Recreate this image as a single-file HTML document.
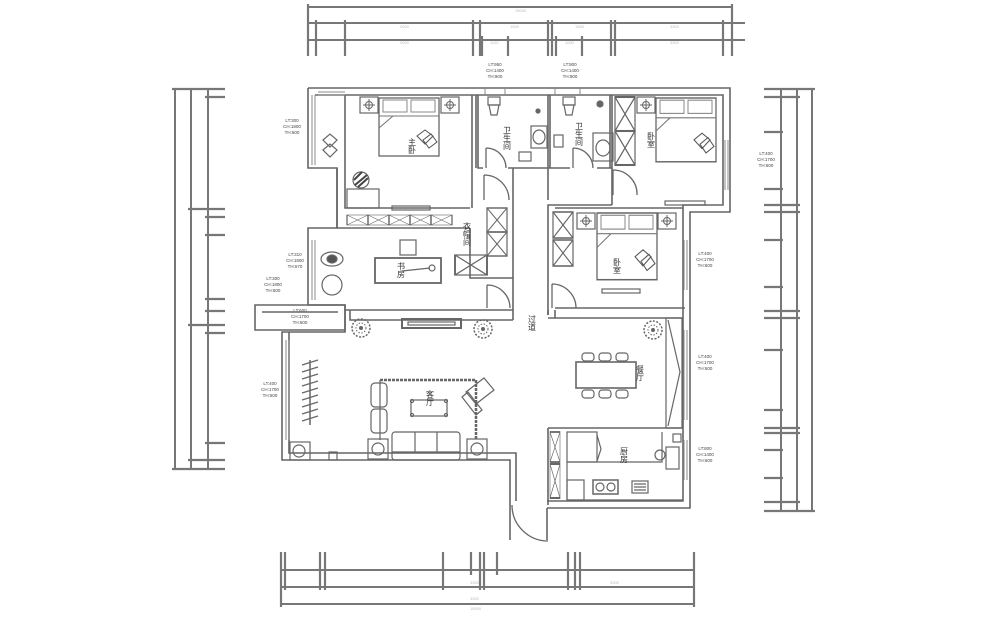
<!DOCTYPE html>
<html><head><meta charset="utf-8"><style>
html,body{margin:0;padding:0;background:#fff;width:1000px;height:630px;overflow:hidden}
svg{display:block}
text{font-family:"Liberation Sans","Noto Sans CJK SC",sans-serif}
</style></head><body>
<svg width="1000" height="630" viewBox="0 0 1000 630" xmlns="http://www.w3.org/2000/svg">
<defs>
<g id="xc"><rect x="0" y="0" width="20" height="20" fill="none" stroke="#666" stroke-width="1.2"/><path d="M0 0L20 20M20 0L0 20" stroke="#666" stroke-width="1"/></g>
<g id="bed"><rect x="0" y="0" width="60" height="58" fill="#fff" stroke="#666" stroke-width="1.3"/><rect x="4" y="2" width="24" height="12" fill="none" stroke="#888"/><rect x="32" y="2" width="24" height="12" fill="none" stroke="#888"/><path d="M0 18H60M0 30L14 18" stroke="#777" fill="none"/><path d="M38 38l8-6 8 6-8 8zM44 42l8-6 6 8-8 6z" fill="none" stroke="#555"/></g>
<g id="nt"><rect x="0" y="0" width="18" height="16" fill="none" stroke="#666" stroke-width="1.2"/><circle cx="9" cy="8" r="3.5" fill="none" stroke="#666"/><path d="M3 8h12M9 2v12" stroke="#666"/></g>
<g id="plant"><circle r="9" fill="none" stroke="#666" stroke-width="1.5" stroke-dasharray="2 1.5"/><circle r="5" fill="none" stroke="#666" stroke-dasharray="1.5 1.5"/><circle r="2" fill="#666"/></g>
</defs>
<g stroke="#777" fill="none" stroke-width="2">
<!-- top dims -->
<line x1="307" y1="7" x2="732" y2="7"/>
<line x1="307" y1="23" x2="745" y2="23"/>
<line x1="307" y1="40" x2="745" y2="40"/>
<g stroke-width="2.2">
<line x1="308" y1="4" x2="308" y2="56"/><line x1="316" y1="20" x2="316" y2="56"/><line x1="345" y1="20" x2="345" y2="56"/>
<line x1="473" y1="20" x2="473" y2="56"/><line x1="480" y1="20" x2="480" y2="56"/><line x1="482" y1="36" x2="482" y2="56"/>
<line x1="508" y1="36" x2="508" y2="56"/><line x1="548" y1="20" x2="548" y2="56"/><line x1="552" y1="20" x2="552" y2="56"/>
<line x1="556" y1="36" x2="556" y2="56"/><line x1="582" y1="36" x2="582" y2="56"/>
<line x1="611" y1="20" x2="611" y2="56"/><line x1="615" y1="20" x2="615" y2="56"/><line x1="723" y1="20" x2="723" y2="56"/><line x1="732" y1="4" x2="732" y2="56"/>
</g>
<!-- left dims -->
<line x1="175" y1="88" x2="175" y2="470"/><line x1="191" y1="88" x2="191" y2="470"/><line x1="208" y1="88" x2="208" y2="470"/>
<g stroke-width="2.2">
<line x1="172" y1="89" x2="225" y2="89"/><line x1="205" y1="97" x2="225" y2="97"/><line x1="188" y1="209" x2="225" y2="209"/>
<line x1="205" y1="217" x2="225" y2="217"/><line x1="205" y1="235" x2="225" y2="235"/><line x1="205" y1="299" x2="225" y2="299"/>
<line x1="205" y1="311" x2="225" y2="311"/><line x1="188" y1="325" x2="225" y2="325"/><line x1="205" y1="333" x2="225" y2="333"/>
<line x1="205" y1="443" x2="225" y2="443"/><line x1="188" y1="460" x2="225" y2="460"/><line x1="172" y1="469" x2="225" y2="469"/>
</g>
<!-- right dims -->
<line x1="781" y1="88" x2="781" y2="512"/><line x1="797" y1="88" x2="797" y2="512"/><line x1="812" y1="88" x2="812" y2="512"/>
<g stroke-width="2.2">
<line x1="764" y1="89" x2="815" y2="89"/><line x1="764" y1="97" x2="800" y2="97"/><line x1="764" y1="132" x2="783" y2="132"/>
<line x1="764" y1="189" x2="783" y2="189"/><line x1="764" y1="205" x2="800" y2="205"/><line x1="764" y1="212" x2="800" y2="212"/>
<line x1="764" y1="240" x2="783" y2="240"/><line x1="764" y1="287" x2="783" y2="287"/><line x1="764" y1="311" x2="800" y2="311"/>
<line x1="764" y1="318" x2="800" y2="318"/><line x1="764" y1="350" x2="783" y2="350"/><line x1="764" y1="410" x2="783" y2="410"/>
<line x1="764" y1="428" x2="800" y2="428"/><line x1="764" y1="433" x2="800" y2="433"/><line x1="764" y1="450" x2="783" y2="450"/>
<line x1="764" y1="478" x2="783" y2="478"/><line x1="764" y1="502" x2="800" y2="502"/><line x1="764" y1="511" x2="815" y2="511"/>
</g>
<!-- bottom dims -->
<line x1="281" y1="570" x2="694" y2="570"/><line x1="281" y1="587" x2="694" y2="587"/><line x1="281" y1="604" x2="694" y2="604"/>
<g stroke-width="2.2">
<line x1="281" y1="552" x2="281" y2="607"/><line x1="285" y1="552" x2="285" y2="590"/><line x1="320" y1="552" x2="320" y2="590"/>
<line x1="325" y1="552" x2="325" y2="590"/><line x1="443" y1="552" x2="443" y2="590"/><line x1="471" y1="552" x2="471" y2="575"/>
<line x1="480" y1="552" x2="480" y2="590"/><line x1="484" y1="552" x2="484" y2="590"/><line x1="497" y1="552" x2="497" y2="575"/>
<line x1="568" y1="552" x2="568" y2="590"/><line x1="575" y1="552" x2="575" y2="590"/><line x1="580" y1="552" x2="580" y2="590"/><line x1="694" y1="552" x2="694" y2="607"/>
</g>
</g>
<!-- dim text -->
<g font-size="4" fill="#bbb">
<text x="515" y="12">15000</text><text x="400" y="28">3000</text><text x="510" y="28">1500</text><text x="575" y="28">1500</text><text x="670" y="28">3300</text>
<text x="400" y="44">3000</text><text x="490" y="44">1100</text><text x="565" y="44">1000</text><text x="670" y="44">3300</text>
<text x="470" y="584">3300</text><text x="470" y="600">3300</text><text x="470" y="610">15000</text><text x="610" y="584">3300</text>
</g>
<g font-size="4.5" fill="#444" text-anchor="middle">
<text x="495" y="66">LT:950</text><text x="495" y="72">CH:1400</text><text x="495" y="78">TH:900</text>
<text x="570" y="66">LT:900</text><text x="570" y="72">CH:1400</text><text x="570" y="78">TH:900</text>
<text x="292" y="122">LT:300</text><text x="292" y="128">CH:1800</text><text x="292" y="134">TH:600</text>
<text x="295" y="256">LT:310</text><text x="295" y="262">CH:1800</text><text x="295" y="268">TH:670</text>
<text x="273" y="280">LT:300</text><text x="273" y="286">CH:1800</text><text x="273" y="292">TH:600</text>
<text x="300" y="312">LT:600</text><text x="300" y="318">CH:1700</text><text x="300" y="324">TH:600</text>
<text x="270" y="385">LT:400</text><text x="270" y="391">CH:1700</text><text x="270" y="397">TH:600</text>
<text x="705" y="255">LT:400</text><text x="705" y="261">CH:1700</text><text x="705" y="267">TH:600</text>
<text x="766" y="155">LT:400</text><text x="766" y="161">CH:1700</text><text x="766" y="167">TH:600</text>
<text x="705" y="358">LT:400</text><text x="705" y="364">CH:1700</text><text x="705" y="370">TH:600</text>
<text x="705" y="450">LT:800</text><text x="705" y="456">CH:1400</text><text x="705" y="462">TH:600</text>
</g>
<!-- outer walls -->
<g stroke="#666" fill="none" stroke-width="1.6">
<path d="M308 88H730V212H690V508H547M510 508V460H282V332H345V305H308V228H337V168H308V88"/>
<path d="M315 95H723V205H683V501H547M516 501V453H289V332"/>
<path d="M255 305H345V330H255Z"/><path d="M262 312H338"/>
<!-- interior walls -->
<path d="M337 168V228M345 95V208H470M472 95V208M478 95V168H483M508 168H513V200M548 200V168H570M597 168H612V95M548 168V95M550 95V168"/>
<path d="M513 168H548M612 168V205M612 205H548V315M555 208H683M685 308H555"/>
<path d="M513 200V320M513 320H350V310M337 228H470M470 228V278H513M345 310H513"/>
<path d="M548 310V315M555 318V310M548 318H683M548 428H683M548 432V505M548 428V500"/>
<path d="M476 95V168M610 95V168M510 508V540M547 508V540"/>
</g>
<!-- windows -->
<g stroke="#888" stroke-width="1">
<path d="M318 92H345M318 95H345M485 88V95M505 88V95M555 88V95M580 88V95M725 140V190M728 140V190M687 240V290M684 240V290M687 330V420M684 330V420M687 440V480M684 440V480M286 340V440M289 340V440M312 240V300M315 240V300M312 95V165M315 95V165"/>
</g>
<!-- doors -->
<g stroke="#666" fill="none" stroke-width="1.3">
<path d="M486 148V168M486 148A20 20 0 0 1 506 168"/>
<path d="M573 148V168M573 148A20 20 0 0 1 593 168"/>
<path d="M484 200V175M484 175A25 25 0 0 1 509 200"/>
<path d="M613 170V195M613 170A24 24 0 0 1 637 195"/>
<path d="M487 285V308M487 285A23 23 0 0 1 510 308"/>
<path d="M552 284V308M552 284A24 24 0 0 1 576 308"/>
<path d="M512 505A36 36 0 0 0 548 541"/>
</g>
<!-- cabinets -->
<g><use href="#xc" transform="translate(347,215) scale(1.05,0.5)"/><use href="#xc" transform="translate(368,215) scale(1.05,0.5)"/><use href="#xc" transform="translate(389,215) scale(1.05,0.5)"/><use href="#xc" transform="translate(410,215) scale(1.05,0.5)"/><use href="#xc" transform="translate(431,215) scale(1.05,0.5)"/>
<use href="#xc" transform="translate(487,208) scale(1,1.2)"/><use href="#xc" transform="translate(487,232) scale(1,1.2)"/><use href="#xc" transform="translate(455,255) scale(1.6,1)"/>
<use href="#xc" transform="translate(615,97) scale(1,1.7)"/><use href="#xc" transform="translate(615,131) scale(1,1.7)"/>
<use href="#xc" transform="translate(553,212) scale(1,1.3)"/><use href="#xc" transform="translate(553,240) scale(1,1.3)"/>
<use href="#xc" transform="translate(550,432) scale(0.5,1.5)"/><use href="#xc" transform="translate(550,464) scale(0.5,1.7)"/>
</g>
<!-- beds -->
<use href="#bed" transform="translate(379,98)"/><use href="#nt" transform="translate(360,97)"/><use href="#nt" transform="translate(441,97)"/>
<use href="#bed" transform="translate(656,98) scale(1,1.1)"/><use href="#nt" transform="translate(637,97)"/>
<use href="#bed" transform="translate(597,213) scale(1,1.15)"/><use href="#nt" transform="translate(577,213)"/><use href="#nt" transform="translate(658,213)"/>
<!-- bathroom fixtures -->
<g stroke="#666" fill="none" stroke-width="1.2">
<rect x="488" y="97" width="12" height="8"/><path d="M489 105h10l-2 10h-6z"/><rect x="531" y="126" width="16" height="22"/><ellipse cx="539" cy="137" rx="6" ry="7"/><rect x="519" y="152" width="12" height="9"/>
<rect x="563" y="97" width="12" height="8"/><path d="M564 105h10l-2 10h-6z"/><rect x="593" y="133" width="20" height="28"/><ellipse cx="603" cy="148" rx="7" ry="8"/><rect x="554" y="135" width="9" height="12"/>
<circle cx="538" cy="111" r="2" fill="#666"/><circle cx="600" cy="104" r="3" fill="#666"/>
<!-- master bedroom extras -->
<rect x="347" y="189" width="32" height="19"/><circle cx="361" cy="180" r="8" fill="#fff"/><path d="M355 185l12-10M354 180l8-8M358 187l10-9" stroke="#444" stroke-width="2"/>
<rect x="392" y="206" width="38" height="4"/><path d="M323 140l7-6 7 6-7 7zM323 150l7-6 7 6-7 7z"/>
<!-- study -->
<rect x="375" y="258" width="66" height="25" stroke-width="1.8"/><rect x="400" y="240" width="16" height="15"/><circle cx="432" cy="268" r="3"/><path d="M402 271L430 268"/>
<ellipse cx="332" cy="259" rx="11" ry="7"/><ellipse cx="332" cy="259" rx="5" ry="4" fill="#555"/><circle cx="332" cy="285" r="10"/>
<rect x="402" y="319" width="59" height="9" stroke-width="2"/><rect x="408" y="322" width="47" height="3"/>
<rect x="602" y="289" width="38" height="4"/><rect x="665" y="201" width="40" height="4"/>
<!-- living -->
<path d="M380 380H476V440" stroke-width="2.5" stroke-dasharray="3 1"/><path d="M380 380V440"/>
<rect x="371" y="383" width="16" height="24" rx="4"/><rect x="371" y="409" width="16" height="24" rx="4"/>
<rect x="411" y="400" width="36" height="16"/><circle cx="412" cy="401" r="1.5"/><circle cx="446" cy="401" r="1.5"/><circle cx="412" cy="415" r="1.5"/><circle cx="446" cy="415" r="1.5"/>
<path d="M466 392l18 -14 10 12-18 14z"/><path d="M462 397l6-5 14 18-6 5z"/>
<rect x="392" y="432" width="68" height="28" rx="3"/><path d="M415 432V452M437 432V452M392 452H460"/>
<rect x="368" y="439" width="20" height="20"/><circle cx="378" cy="449" r="6"/><rect x="467" y="439" width="20" height="20"/><circle cx="477" cy="449" r="6"/>
<rect x="290" y="442" width="20" height="18"/><circle cx="299" cy="451" r="6"/><rect x="329" y="452" width="8" height="8"/>
<path d="M310 360V425" stroke-width="1.5"/><path d="M302 365l16 -5M302 372l16-5M302 379l16-5M302 386l16-5M302 393l16-5M302 400l16-5M302 407l16-5M302 414l16-5M302 421l16-5"/>
<!-- dining -->
<rect x="576" y="362" width="60" height="26" stroke-width="1.6"/>
<rect x="582" y="353" width="12" height="8" rx="3"/><rect x="599" y="353" width="12" height="8" rx="3"/><rect x="616" y="353" width="12" height="8" rx="3"/>
<rect x="582" y="390" width="12" height="8" rx="3"/><rect x="599" y="390" width="12" height="8" rx="3"/><rect x="616" y="390" width="12" height="8" rx="3"/>
<rect x="666" y="318" width="16" height="110"/><path d="M668 320L680 372 668 426"/>
<!-- kitchen -->
<rect x="567" y="432" width="30" height="30"/><path d="M597 435l4 14-4 12"/><path d="M567 462H662V432M567 462V500H683"/><rect x="567" y="480" width="17" height="20"/>
<rect x="593" y="480" width="25" height="14" stroke-width="1.5"/><circle cx="600" cy="487" r="4"/><circle cx="611" cy="487" r="4"/>
<rect x="632" y="481" width="16" height="12"/><path d="M634 484h12M634 487h12M634 490h12"/>
<rect x="666" y="447" width="13" height="22"/><circle cx="660" cy="455" r="5"/><rect x="673" y="434" width="8" height="8"/>
</g>
<use href="#plant" transform="translate(361,328)"/><use href="#plant" transform="translate(483,329)"/><use href="#plant" transform="translate(653,330)"/>
<!-- room labels -->
<g font-size="8" fill="#333" writing-mode="tb">
<text x="412" y="138">主卧</text><text x="507" y="126">卫生间</text><text x="579" y="122">卫生间</text><text x="651" y="132">卧室</text>
<text x="467" y="222">衣帽间</text><text x="617" y="258">卧室</text><text x="532" y="315">过道</text><text x="430" y="390">客厅</text>
<text x="640" y="365">餐厅</text><text x="624" y="447">厨房</text><text x="401" y="262">书房</text>
</g>
</svg>
</body></html>
